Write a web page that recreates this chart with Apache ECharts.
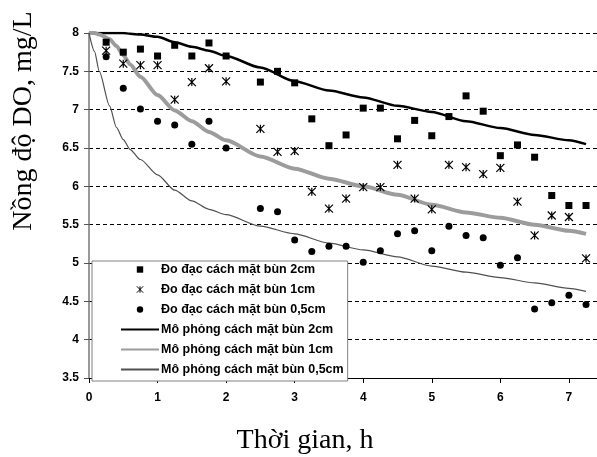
<!DOCTYPE html>
<html>
<head>
<meta charset="utf-8">
<title>DO</title>
<script src="https://cdn.jsdelivr.net/npm/echarts@6/dist/echarts.min.js"></script>
<style>
html,body{margin:0;padding:0;background:#fff;}
#chart{width:597px;height:457px;}
</style>
</head>
<body>
<div id="chart"></div>
<script>
// so lieu doc tu hinh
var measTime = [0.25,0.5,0.75,1,1.25,1.5,1.75,2,2.5,2.75,3,3.25,3.5,3.75,4,4.25,4.5,4.75,5,5.25,5.5,5.75,6,6.25,6.5,6.75,7,7.25];
var meas2cm = [7.88,7.75,7.79,7.70,7.84,7.70,7.87,7.70,7.36,7.50,7.35,6.88,6.53,6.67,7.02,7.02,6.62,6.86,6.66,6.91,7.18,6.98,6.40,6.54,6.38,5.88,5.75,5.75];
var meas1cm = [7.77,7.60,7.58,7.58,7.13,7.36,7.54,7.37,6.75,6.45,6.46,5.93,5.71,5.84,5.99,5.99,6.28,5.84,5.70,6.28,6.25,6.16,6.24,5.80,5.36,5.62,5.60,5.06];
var meas05cm = [7.69,7.28,7.01,6.85,6.80,6.55,6.85,6.50,5.71,5.67,5.30,5.15,5.22,5.22,5.01,5.16,5.38,5.42,5.16,5.48,5.36,5.33,4.97,5.07,4.40,4.48,4.58,4.46];

var modelTime = [0,0.08,0.15,0.3,0.4,0.5,0.6,0.75,1,1.25,1.5,1.75,2,2.5,3,3.5,4,4.5,5,5.5,6,6.5,7,7.25];
var model2cm = [8.00,8.00,8.00,8.00,8.00,8.00,7.99,7.98,7.95,7.88,7.82,7.77,7.70,7.55,7.37,7.25,7.16,7.05,6.97,6.85,6.76,6.67,6.60,6.55];
var model1cm = [8.00,8.00,7.98,7.92,7.83,7.71,7.59,7.43,7.19,6.99,6.85,6.71,6.60,6.39,6.23,6.10,6.00,5.89,5.76,5.66,5.59,5.50,5.42,5.38];
var model05cm = [8.00,7.76,7.50,7.05,6.77,6.61,6.48,6.35,6.15,5.95,5.81,5.70,5.63,5.48,5.38,5.26,5.17,5.08,4.96,4.88,4.81,4.74,4.67,4.63];

var names = [
    "Đo đạc cách mặt bùn 2cm",
    "Đo đạc cách mặt bùn 1cm",
    "Đo đạc cách mặt bùn 0,5cm",
    "Mô phỏng cách mặt bùn 2cm",
    "Mô phỏng cách mặt bùn 1cm",
    "Mô phỏng cách mặt bùn 0,5cm"
];
var yTitle = "Nồng độ DO, mg/L";
var xTitle = "Thời gian, h";

function pairs(xs, ys){
    return xs.map(function(x, i){ return [x, ys[i]]; });
}

var starPath = "path://M0,0L10,10M10,0L0,10M5,0L5,10";
var labelFont = { fontFamily: "Liberation Sans", fontWeight: "bold", fontSize: 12, color: "#000" };

function measSeries(name, values, symbol, size, border){
    return {
        name: name,
        type: "line",
        data: pairs(measTime, values),
        symbol: symbol,
        symbolSize: size,
        showSymbol: true,
        lineStyle: { width: 0 },
        itemStyle: { color: "#000", borderColor: "#000", borderWidth: border },
        z: 3
    };
}
function modelSeries(name, values, color, width){
    return {
        name: name,
        type: "line",
        data: pairs(modelTime, values),
        symbol: "none",
        smooth: 0.25,
        smoothMonotone: "x",
        lineStyle: { color: color, width: width },
        itemStyle: { color: color },
        z: 2
    };
}

var chart = echarts.init(document.getElementById("chart"));
var option = {
    animation: false,
    backgroundColor: "#fff",
    grid: { left: 89, right: 0, top: 33, bottom: 79, containLabel: false, outerBoundsMode: "none" },
    legend: {
        orient: "vertical",
        left: 92,
        top: 261,
        padding: [2, 4, 5, 28],
        itemWidth: 38,
        itemHeight: 8,
        itemGap: 7,
        backgroundColor: "#fff",
        borderColor: "#808080",
        borderWidth: 1,
        borderRadius: 0,
        selectedMode: false,
        textStyle: { fontFamily: "Liberation Sans", fontWeight: "bold", fontSize: 12.5, color: "#000", padding: [0, 0, 0, -3] },
        data: [
            { name: names[0] },
            { name: names[1], itemStyle: { borderWidth: 1 } },
            { name: names[2] },
            { name: names[3], itemStyle: { opacity: 0 } },
            { name: names[4], itemStyle: { opacity: 0 } },
            { name: names[5], itemStyle: { opacity: 0 } }
        ]
    },
    xAxis: {
        type: "value",
        min: 0,
        max: 7.41,
        interval: 1,
        axisLine: { show: true, lineStyle: { color: "#000", width: 1.2 } },
        axisTick: { show: true, length: 5, lineStyle: { color: "#000" } },
        axisLabel: Object.assign({ margin: 14, formatter: function(v){ return v % 1 === 0 ? v : ""; } }, labelFont),
        splitLine: { show: false }
    },
    yAxis: {
        type: "value",
        min: 3.5,
        max: 8,
        interval: 0.5,
        axisLine: { show: true, lineStyle: { color: "#777", width: 1.5 } },
        axisTick: { show: true, length: 5, lineStyle: { color: "#555" } },
        axisLabel: Object.assign({ margin: 10 }, labelFont),
        splitLine: { show: true, lineStyle: { color: "#000", width: 1, type: [4, 3] } }
    },
    graphic: [
        {
            type: "text", x: 24, y: 121, rotation: Math.PI / 2,
            style: { text: yTitle, fontFamily: "Liberation Serif", fontSize: 28, fill: "#000", align: "center", verticalAlign: "middle" }
        },
        {
            type: "text", x: 305, y: 441,
            style: { text: xTitle, fontFamily: "Liberation Serif", fontSize: 28, fill: "#000", align: "center", verticalAlign: "middle" }
        }
    ],
    series: [
        modelSeries(names[3], model2cm, "#000", 2.5),
        modelSeries(names[4], model1cm, "#9c9c9c", 4),
        modelSeries(names[5], model05cm, "#505050", 1.2),
        measSeries(names[0], meas2cm, "rect", 7, 0),
        measSeries(names[1], meas1cm, starPath, 8, 1.2),
        measSeries(names[2], meas05cm, "circle", 7, 0)
    ]
};
chart.setOption(option);
</script>
</body>
</html>
